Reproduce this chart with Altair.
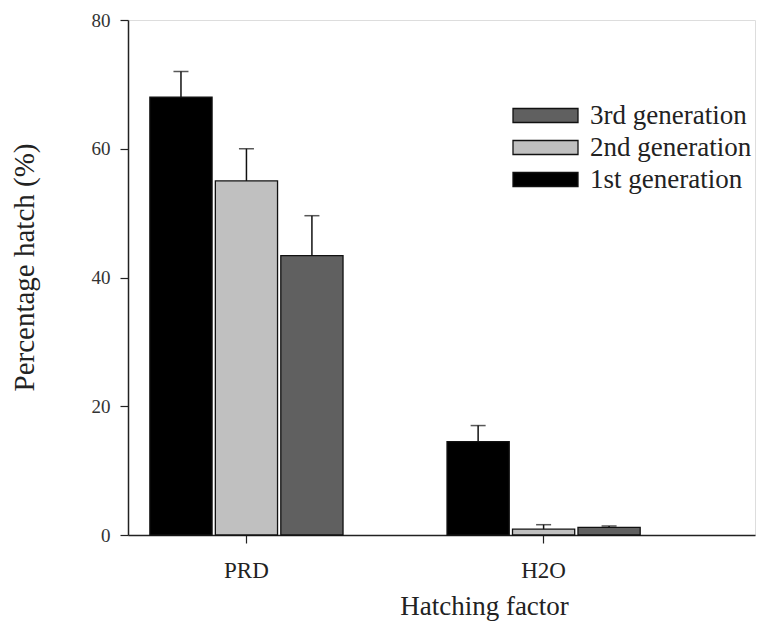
import altair as alt
import pandas as pd

categories = ["PRD", "H2O"]
generations = ["1st generation", "2nd generation", "3rd generation"]
prd_values = [68.0, 55.0, 43.4]
prd_errors = [4.0, 5.0, 6.2]
h2o_values = [14.5, 0.9, 1.2]
h2o_errors = [2.5, 0.7, 0.2]

rows = []
for cat, vals, errs in [("PRD", prd_values, prd_errors), ("H2O", h2o_values, h2o_errors)]:
    for g, v, e in zip(generations, vals, errs):
        rows.append({"factor": cat, "gen": g, "value": v, "upper": v + e})
df = pd.DataFrame(rows)

FONT = "Liberation Serif"

x_enc = alt.X("factor:N", sort=categories,
              scale=alt.Scale(paddingInner=0.35, paddingOuter=0.23, align=0.16),
              axis=alt.Axis(title="Hatching factor", labelAngle=0, labelFont=FONT,
                            labelFontSize=23, labelColor="#222", labelPadding=16,
                            titleFont=FONT, titleFontSize=27, titleFontWeight="normal",
                            titleColor="#222", titleX=356, titleY=58, titleBaseline="top",
                            tickSize=8, tickColor="#222", domainColor="#222",
                            tickWidth=1.2, domainWidth=1.5))
xoff = alt.XOffset("gen:N", sort=generations,
                   scale=alt.Scale(paddingInner=0.05, paddingOuter=0))

y_axis = alt.Axis(title="Percentage hatch (%)", values=[0, 20, 40, 60, 80], grid=False,
                  labelFont=FONT, labelFontSize=19, labelColor="#333", labelPadding=10,
                  titleFont=FONT, titleFontSize=29, titleFontWeight="normal",
                  titleColor="#222", titleX=-89, titleY=247, titleAngle=270,
                  titleBaseline="bottom", tickSize=8, tickColor="#222",
                  domainColor="#222", tickWidth=1.2, domainWidth=1.5)
y_scale = alt.Scale(domain=[0, 80], nice=False)

legend_order = ["3rd generation", "2nd generation", "1st generation"]
legend_colors = ["#606060", "#c0c0c0", "#000000"]

bars = alt.Chart(df).mark_bar(stroke="#111", strokeWidth=1.3).encode(
    x=x_enc,
    xOffset=xoff,
    y=alt.Y("value:Q", scale=y_scale, axis=y_axis),
    color=alt.Color("gen:N", scale=alt.Scale(domain=legend_order, range=legend_colors),
                    legend=alt.Legend(title=None, orient="none", legendX=403.5, legendY=81.5,
                                      symbolType="M-2.5,-0.54H2.5V0.54H-2.5Z", symbolSize=676,
                                      symbolStrokeColor="#111", symbolStrokeWidth=1.3,
                                      labelFont=FONT, labelFontSize=27, labelColor="#222",
                                      labelOffset=30.5, rowPadding=5, padding=0,
                                      labelLimit=400)),
)

err = alt.Chart(df).mark_rule(color="#111", strokeWidth=1.5).encode(
    x=alt.X("factor:N", sort=categories),
    xOffset=xoff,
    y=alt.Y("value:Q", scale=y_scale),
    y2="upper:Q",
)

caps = alt.Chart(df).mark_tick(color="#111", thickness=1.5, size=15, orient="horizontal").encode(
    x=alt.X("factor:N", sort=categories),
    xOffset=xoff,
    y=alt.Y("upper:Q", scale=y_scale),
)

chart = alt.layer(bars, err, caps).properties(
    width=627, height=515,
    autosize=alt.AutoSizeParams(type="none"),
    padding={"left": 128, "top": 20, "right": 14, "bottom": 95},
).configure_view(stroke=None).configure_legend(labelFont=FONT).configure(background="white")

chart.save("out.html", embed_options={"renderer": "svg", "actions": False})
